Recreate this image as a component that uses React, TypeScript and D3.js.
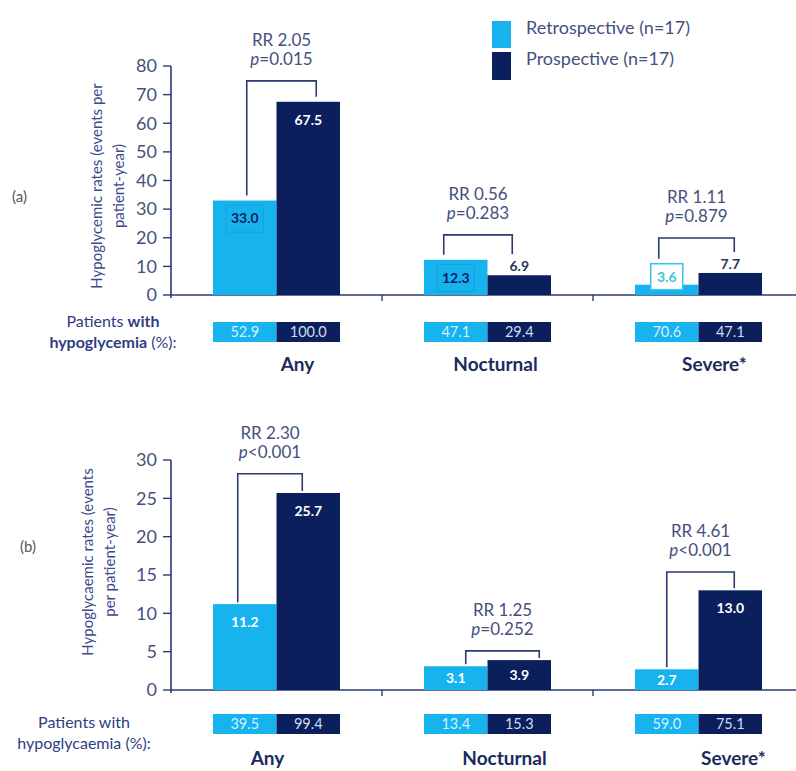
import React from "react";
import * as d3 from "d3";

// ---------- data ----------
const categories = ["Any", "Nocturnal", "Severe*"];
const seriesNames = ["Retrospective (n=17)", "Prospective (n=17)"];

const ratesA_retro = [33.0, 12.3, 3.6];
const ratesA_pros = [67.5, 6.9, 7.7];
const patientsA_retro = [52.9, 47.1, 70.6];
const patientsA_pros = [100.0, 29.4, 47.1];
const rrA = ["RR 2.05", "RR 0.56", "RR 1.11"];
const pA = ["=0.015", "=0.283", "=0.879"];
const ticksA = [0, 10, 20, 30, 40, 50, 60, 70, 80];

const ratesB_retro = [11.2, 3.1, 2.7];
const ratesB_pros = [25.7, 3.9, 13.0];
const patientsB_retro = [39.5, 13.4, 59.0];
const patientsB_pros = [99.4, 15.3, 75.1];
const rrB = ["RR 2.30", "RR 1.25", "RR 4.61"];
const pB = ["<0.001", "=0.252", "<0.001"];
const ticksB = [0, 5, 10, 15, 20, 25, 30];

// ---------- style / layout ----------
const LIGHT = "#16b3ef";
const DARK = "#0b1f5c";
const AXIS = "#2b3a73";
const TEXT = "#46507e";
const FONT = "Lato, 'Open Sans', sans-serif";

type Panel = {
  letter: string;
  retro: number[];
  pros: number[];
  pRetro: number[];
  pPros: number[];
  rr: string[];
  p: string[];
  ticks: number[];
  yMax: number;
  yBottom: number;
  yTop: number;
  bracketTop: number[];
  legDx: number[][];
  labelRetro: string[];
  labelPros: string[];
  catDx: number[];
  catY: number;
  boxY: number;
  pLabelX: number;
  pLabelY: number;
  boldPL: boolean;
  plWord: string;
  titleLines: string[];
  titleX: number[];
  titleY: number;
  letterX: number;
  letterY: number;
};

const panels: Panel[] = [
  {
    letter: "(a)",
    retro: ratesA_retro,
    pros: ratesA_pros,
    pRetro: patientsA_retro,
    pPros: patientsA_pros,
    rr: rrA,
    p: pA,
    ticks: ticksA,
    yMax: 80,
    yBottom: 295,
    yTop: 66,
    bracketTop: [74.8, 21.0, 19.9],
    legDx: [[2, 8], [-12, -7], [-8, 4]],
    labelRetro: ["box", "box", "whitebox"],
    labelPros: ["inside", "above", "above"],
    catDx: [21, 8, 16],
    catY: 364,
    boxY: 322,
    pLabelX: 113,
    pLabelY: 321,
    boldPL: true,
    plWord: "hypoglycemia",
    titleLines: ["Hypoglycemic rates (events per", "patient-year)"],
    titleX: [97, 119],
    titleY: 186,
    letterX: 12,
    letterY: 197,
  },
  {
    letter: "(b)",
    retro: ratesB_retro,
    pros: ratesB_pros,
    pRetro: patientsB_retro,
    pPros: patientsB_pros,
    rr: rrB,
    p: pB,
    ticks: ticksB,
    yMax: 30,
    yBottom: 690,
    yTop: 460,
    bracketTop: [28.2, 5.1, 15.4],
    legDx: [[-7, -6], [10, 20], [0, 4]],
    labelRetro: ["inside", "inside", "inside"],
    labelPros: ["inside", "inside", "inside"],
    catDx: [-9, 17, 35],
    catY: 758,
    boxY: 714,
    pLabelX: 84,
    pLabelY: 722,
    boldPL: false,
    plWord: "hypoglycaemia",
    titleLines: ["Hypoglycaemic rates (events", "per patient-year)"],
    titleX: [88, 110],
    titleY: 562,
    letterX: 20,
    letterY: 547,
  },
];

const AXIS_X = 171;
const x = d3.scaleBand<string>().domain(categories).range([AXIS_X, AXIS_X + 633]).paddingInner(0).paddingOuter(0);
const groupW = 127;
const inner = d3.scaleBand<number>().domain([0, 1]).range([0, groupW]);

function PanelView({ P }: { P: Panel }) {
  const y = d3.scaleLinear().domain([0, P.yMax]).range([P.yBottom, P.yTop]);
  const items: React.ReactNode[] = [];

  // axes
  items.push(
    <line key="yax" x1={AXIS_X} x2={AXIS_X} y1={P.yTop} y2={P.yBottom + 3} stroke={AXIS} strokeWidth={1.6} />,
    <line key="xax" x1={AXIS_X} x2={796} y1={P.yBottom} y2={P.yBottom} stroke={AXIS} strokeWidth={1.6} />
  );
  P.ticks.forEach((t) => {
    items.push(
      <line key={"t" + t} x1={AXIS_X - 8} x2={AXIS_X} y1={y(t)} y2={y(t)} stroke={AXIS} strokeWidth={1.4} />,
      <text key={"tl" + t} x={AXIS_X - 14} y={y(t)} dy="0.35em" textAnchor="end" fontSize={18} fill={TEXT} fontFamily={FONT}>
        {t}
      </text>
    );
  });
  categories.slice(1).forEach((c) => {
    const xx = x(c)!;
    items.push(<line key={"sep" + c} x1={xx} x2={xx} y1={P.yBottom} y2={P.yBottom + 6} stroke={AXIS} strokeWidth={1.4} />);
  });

  categories.forEach((c, i) => {
    const g0 = x(c)! + (x.bandwidth() - groupW) / 2;
    const bw = inner.bandwidth();
    const vals = [P.retro[i], P.pros[i]];
    const styles = [P.labelRetro[i], P.labelPros[i]];
    const labelTops: number[] = [];
    vals.forEach((v, s) => {
      const bx = g0 + inner(s)!;
      const top = y(v);
      const cx = bx + bw / 2;
      items.push(<rect key={`b${i}${s}`} x={bx} y={top} width={bw} height={P.yBottom - top} fill={s === 0 ? LIGHT : DARK} />);
      const st = styles[s];
      const label = v.toFixed(1);
      let ly = top + 17;
      let lt = top;
      if (st === "box") {
        ly = top + 18;
        items.push(
          <rect key={`lb${i}${s}`} x={cx - 18.5} y={ly - 13.5} width={37} height={27} fill={LIGHT} stroke="#1aa0d8" strokeWidth={1} />
        );
        items.push(
          <text key={`l${i}${s}`} x={cx} y={ly} dy="0.35em" textAnchor="middle" fontSize={14} fontWeight="bold" fill={DARK} fontFamily={FONT}>
            {label}
          </text>
        );
      } else if (st === "whitebox") {
        ly = top - 8;
        lt = ly - 13;
        items.push(
          <rect key={`lb${i}${s}`} x={cx - 16} y={ly - 13} width={32} height={26} fill="#ffffff" stroke="#3cc3ee" strokeWidth={1.6} />
        );
        items.push(
          <text key={`l${i}${s}`} x={cx} y={ly} dy="0.35em" textAnchor="middle" fontSize={14} fontWeight="bold" fill="#3cc8d8" fontFamily={FONT}>
            {label}
          </text>
        );
      } else if (st === "above") {
        ly = top - 9;
        lt = ly - 7;
        items.push(
          <text key={`l${i}${s}`} x={cx} y={ly} dy="0.35em" textAnchor="middle" fontSize={14} fontWeight="bold" fill="#2a3460" fontFamily={FONT}>
            {label}
          </text>
        );
      } else {
        ly = Math.min(top + 18, (top + P.yBottom) / 2);
        items.push(
          <text key={`l${i}${s}`} x={cx} y={ly} dy="0.35em" textAnchor="middle" fontSize={14} fontWeight="bold" fill="#ffffff" fontFamily={FONT}>
            {label}
          </text>
        );
      }
      labelTops.push(lt);

      // patient box
      items.push(
        <rect key={`pb${i}${s}`} x={bx} y={P.boxY} width={bw} height={20} fill={s === 0 ? LIGHT : DARK} />,
        <text key={`pt${i}${s}`} x={cx} y={P.boxY + 10} dy="0.35em" textAnchor="middle" fontSize={14.5} fill={s === 0 ? "#d6efff" : "#d4dbee"} fontFamily={FONT}>
          {(s === 0 ? P.pRetro[i] : P.pPros[i]).toFixed(1)}
        </text>
      );
    });

    // bracket
    const cxL = g0 + inner(0)! + bw / 2 + P.legDx[i][0];
    const cxR = g0 + inner(1)! + bw / 2 + P.legDx[i][1];
    const bt = y(P.bracketTop[i]);
    const gap = P.letter === "(a)" ? 5 : 2;
    const endL = labelTops[0] - gap;
    const endR = labelTops[1] - gap;
    items.push(
      <path key={`br${i}`} d={`M${cxL},${endL}V${bt}H${cxR}V${endR}`} fill="none" stroke={AXIS} strokeWidth={1.6} />
    );
    const mid = (cxL + cxR) / 2;
    items.push(
      <text key={`rr${i}`} x={mid} y={bt - 41} dy="0.35em" textAnchor="middle" fontSize={17} fill={TEXT} fontFamily={FONT}>
        {P.rr[i]}
      </text>,
      <text key={`pv${i}`} x={mid} y={bt - 22} dy="0.35em" textAnchor="middle" fontSize={17} fill={TEXT} fontFamily={FONT}>
        <tspan fontStyle="italic">p</tspan>
        {P.p[i]}
      </text>
    );

    // category label
    items.push(
      <text key={`cat${i}`} x={x(c)! + x.bandwidth() / 2 + P.catDx[i]} y={P.catY} dy="0.35em" textAnchor="middle" fontSize={19} fontWeight="bold" fill="#1c2a5e" fontFamily={FONT}>
        {c}
      </text>
    );
  });

  // patients label
  items.push(
    <text key="pl1" x={P.pLabelX} y={P.pLabelY} dy="0.35em" textAnchor="middle" fontSize={16} fill="#2f3d84" fontFamily={FONT}>
      Patients <tspan fontWeight={P.boldPL ? "bold" : "normal"}>with</tspan>
    </text>,
    <text key="pl2" x={P.pLabelX} y={P.pLabelY + 21} dy="0.35em" textAnchor="middle" fontSize={16} fill="#2f3d84" fontFamily={FONT}>
      <tspan fontWeight={P.boldPL ? "bold" : "normal"}>{P.plWord}</tspan> (%):
    </text>
  );

  // y title
  P.titleLines.forEach((t, k) => {
    items.push(
      <text key={`yt${k}`} transform={`translate(${P.titleX[k]},${P.titleY}) rotate(-90)`} dy="0.35em" textAnchor="middle" fontSize={15} fill="#3c4a8c" fontFamily={FONT}>
        {t}
      </text>
    );
  });

  items.push(
    <text key="letter" x={P.letterX} y={P.letterY} dy="0.35em" fontSize={15} fill="#555" fontFamily={FONT}>
      {P.letter}
    </text>
  );

  return <g>{items}</g>;
}

export default function App() {
  return (
    <svg width={796} height={771} style={{ position: "absolute", left: 0, top: 0, background: "#fff" }}>
      <rect width={796} height={771} fill="#fff" />
      {panels.map((P) => (
        <PanelView key={P.letter} P={P} />
      ))}
      {/* legend */}
      {seriesNames.map((n, i) => (
        <g key={n}>
          <rect x={492} y={i === 0 ? 21 : 52} width={19} height={i === 0 ? 27 : 28} fill={i === 0 ? LIGHT : DARK} />
          <text x={526} y={i === 0 ? 28 : 59} dy="0.35em" fontSize={18} fill={TEXT} fontFamily={FONT}>
            {n}
          </text>
        </g>
      ))}
    </svg>
  );
}
